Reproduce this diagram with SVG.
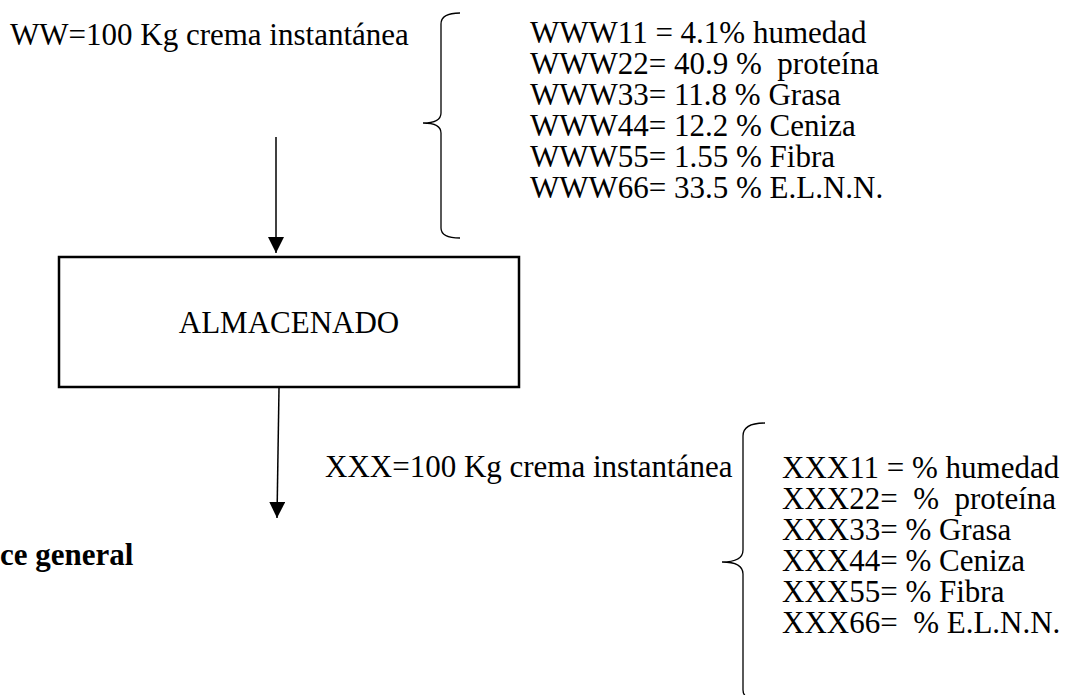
<svg xmlns="http://www.w3.org/2000/svg" width="1071" height="695" viewBox="0 0 1071 695">
  <style>
    .t { font-family: "Liberation Serif", "Times New Roman", serif; font-size: 31px; fill: #000; }
    .b { font-weight: bold; }
    .ln { stroke: #000; stroke-width: 1.5; fill: none; }
    .br { stroke: #000; stroke-width: 1.3; fill: none; }
    .box { stroke: #000; stroke-width: 2.5; fill: #fff; }
  </style>
  <defs>
    <marker id="arr" viewBox="0 0 16 16" refX="16" refY="8" markerWidth="16" markerHeight="16" markerUnits="userSpaceOnUse" orient="auto">
      <path d="M0,0 L16,8 L0,16 Z" fill="#000"/>
    </marker>
  </defs>

  <g id="connectors">
    <line class="ln" x1="276" y1="137" x2="276" y2="253" marker-end="url(#arr)"/>
    <line class="ln" x1="279" y1="388" x2="277" y2="518" marker-end="url(#arr)"/>
  </g>

  <g id="input">
    <text class="t" x="10" y="45">WW=100 Kg crema instantánea</text>
  </g>

  <g id="brace-top">
    <path class="br" d="M460,13 Q441,13 441,24 L441,113 Q441,123 423,123 Q441,123 441,133 L441,228 Q441,238 460,238"/>
  </g>

  <g id="composition-in">
    <text class="t" x="530" y="43">WWW11 = 4.1% humedad</text>
    <text class="t" x="530" y="74" xml:space="preserve">WWW22= 40.9 %  proteína</text>
    <text class="t" x="530" y="105">WWW33= 11.8 % Grasa</text>
    <text class="t" x="530" y="136">WWW44= 12.2 % Ceniza</text>
    <text class="t" x="530" y="167">WWW55= 1.55 % Fibra</text>
    <text class="t" x="530" y="198">WWW66= 33.5 % E.L.N.N.</text>
  </g>

  <g id="almacenado">
    <rect class="box" x="59" y="257" width="460" height="130"/>
    <text class="t" x="289" y="333" text-anchor="middle">ALMACENADO</text>
  </g>

  <g id="output">
    <text class="t" x="325" y="477">XXX=100 Kg crema instantánea</text>
  </g>

  <g id="brace-bottom">
    <path class="br" d="M765,423 Q743,423 743,436 L743,550 Q743,562 722,562 Q743,562 743,574 L743,690 Q743,701 765,701"/>
  </g>

  <g id="composition-out">
    <text class="t" x="782" y="478">XXX11 = % humedad</text>
    <text class="t" x="782" y="509" xml:space="preserve">XXX22=  %  proteína</text>
    <text class="t" x="782" y="540">XXX33= % Grasa</text>
    <text class="t" x="782" y="571">XXX44= % Ceniza</text>
    <text class="t" x="782" y="602">XXX55= % Fibra</text>
    <text class="t" x="782" y="633" xml:space="preserve">XXX66=  % E.L.N.N.</text>
  </g>

  <g id="title">
    <text class="t b" x="0" y="565">ce general</text>
  </g>
</svg>
